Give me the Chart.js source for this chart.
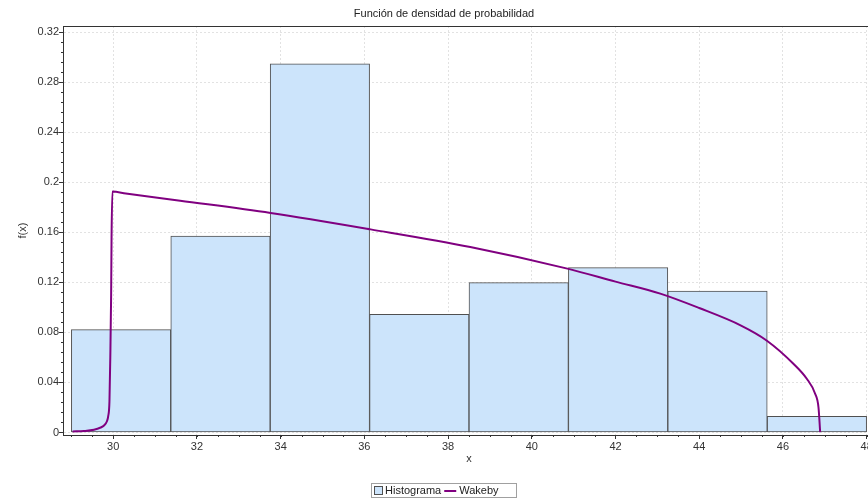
<!DOCTYPE html>
<html>
<head>
<meta charset="utf-8">
<script src="https://cdn.jsdelivr.net/npm/chart.js@4/dist/chart.umd.min.js"></script>
<style>
  html, body { margin: 0; padding: 0; overflow: hidden; background: #fff; }
  canvas { display: block; }
</style>
</head>
<body>
<canvas id="chart" width="880" height="499"></canvas>
<script>
// Texts
const chartTitle = 'Función de densidad de probabilidad';
const xAxisTitle = 'x';
const yAxisTitle = 'f(x)';
const seriesNames = ['Histograma', 'Wakeby'];

// Histogram: class edges and density of each class
const binEdges = [29, 31.375, 33.75, 36.125, 38.5, 40.875, 43.25, 45.625, 48];
const histDensity = [0.0822, 0.157, 0.2947, 0.0945, 0.1198, 0.1318, 0.113, 0.013];

// Fitted Wakeby density curve
const wakebyX = [29.03, 29.3, 29.54, 29.7, 29.78, 29.85, 29.88, 29.91, 29.93, 29.95, 29.96, 29.98,
                 30.3, 31.6, 33.76, 36.15, 38.53, 40.85, 42.0, 43.07, 44.0, 45.0, 45.61, 46.25, 46.57,
                 46.77, 46.85, 46.89];
const wakebyY = [0.0008, 0.0012, 0.0022, 0.004, 0.0056, 0.009, 0.013, 0.025, 0.06, 0.11, 0.156, 0.1926,
                 0.1911, 0.1853, 0.1755, 0.1624, 0.1483, 0.131, 0.1206, 0.111, 0.0995, 0.0855, 0.0736, 0.055, 0.043,
                 0.031, 0.020, 0.0003];

// Axis ticks
const xTicks = [30, 32, 34, 36, 38, 40, 42, 44, 46, 48];
const xTickLabels = ['30', '32', '34', '36', '38', '40', '42', '44', '46', '48'];
const yTicks = [0, 0.04, 0.08, 0.12, 0.16, 0.2, 0.24, 0.28, 0.32];
const yTickLabels = ['0', '0.04', '0.08', '0.12', '0.16', '0.2', '0.24', '0.28', '0.32'];

const BAR_FILL = 'rgb(204, 228, 251)';
const BAR_EDGE = '#505050';
const CURVE = '#800080';
const AXIS = '#333333';
const FONT = '"Liberation Sans", Arial, sans-serif';

Chart.defaults.font.family = FONT;
Chart.defaults.font.size = 11;
Chart.defaults.color = '#333';

const histPoints = histDensity.map((v, i) => ({ x: (binEdges[i] + binEdges[i + 1]) / 2, y: v }));
const curvePoints = wakebyX.map((x, i) => ({ x, y: wakebyY[i] }));

// Frame top line, minor ticks, title and boxed legend
const decorations = {
  id: 'decorations',
  afterDraw(chart) {
    const { ctx, chartArea: a, scales: { x, y } } = chart;
    ctx.save();
    ctx.strokeStyle = AXIS;
    ctx.lineWidth = 1;
    ctx.beginPath();
    ctx.moveTo(a.left, Math.round(a.top) + 0.5);
    ctx.lineTo(a.right, Math.round(a.top) + 0.5);
    ctx.stroke();

    // minor ticks
    ctx.beginPath();
    for (let v = 0; v <= 0.3201; v += 0.008) {
      const p = Math.round(y.getPixelForValue(v)) + 0.5;
      ctx.moveTo(a.left - 2, p); ctx.lineTo(a.left, p);
    }
    for (let v = 29; v <= 48.01; v += 0.5) {
      const p = Math.round(x.getPixelForValue(v)) + 0.5;
      ctx.moveTo(p, a.bottom); ctx.lineTo(p, a.bottom + 2);
    }
    ctx.stroke();

    // title
    ctx.fillStyle = '#222';
    ctx.font = '11px ' + FONT;
    ctx.textAlign = 'center';
    ctx.textBaseline = 'middle';
    ctx.fillText(chartTitle, 444, 14);

    // legend
    ctx.font = '11px ' + FONT;
    ctx.textAlign = 'left';
    const ly = 491;
    ctx.strokeStyle = '#a0a0a0';
    ctx.strokeRect(371.5, 483.5, 145, 14);
    let lx = 374;
    ctx.fillStyle = BAR_FILL;
    ctx.fillRect(lx + 0.5, ly - 4.5, 8, 8);
    ctx.strokeStyle = BAR_EDGE;
    ctx.strokeRect(lx + 0.5, ly - 4.5, 8, 8);
    lx += 11;
    ctx.fillStyle = '#222';
    ctx.fillText(chart.data.datasets[1].label, lx, ly);
    lx += ctx.measureText(chart.data.datasets[1].label).width + 3;
    ctx.strokeStyle = CURVE;
    ctx.lineWidth = 2;
    ctx.beginPath();
    ctx.moveTo(lx, ly); ctx.lineTo(lx + 12, ly);
    ctx.stroke();
    lx += 15;
    ctx.fillText(chart.data.datasets[0].label, lx, ly);
    ctx.restore();
  }
};

new Chart(document.getElementById('chart'), {
  data: {
    datasets: [
      {
        type: 'line',
        label: seriesNames[1],
        data: curvePoints,
        borderColor: CURVE,
        borderWidth: 2,
        pointRadius: 0,
        fill: false,
        cubicInterpolationMode: 'monotone',
        order: 0
      },
      {
        type: 'bar',
        label: seriesNames[0],
        data: histPoints,
        backgroundColor: BAR_FILL,
        borderColor: BAR_EDGE,
        borderWidth: 1,
        borderSkipped: false,
        barThickness: 'flex',
        barPercentage: 1,
        categoryPercentage: 1,
        order: 1
      }
    ]
  },
  options: {
    responsive: false,
    animation: false,
    layout: { padding: { top: 26, right: 5, bottom: 0, left: 0 } },
    plugins: {
      legend: { display: false },
      tooltip: { enabled: false },
      title: { display: false }
    },
    scales: {
      x: {
        type: 'linear',
        min: 28.8,
        max: 48.2,
        offset: false,
        afterBuildTicks: s => { s.ticks = xTicks.map(v => ({ value: v })); },
        afterFit: s => { s.height = 64; },
        ticks: {
          autoSkip: false,
          maxRotation: 0,
          padding: 1,
          color: '#333',
          callback: (v, i) => xTickLabels[i]
        },
        grid: { offset: false, color: '#e2e2e2', tickColor: AXIS, tickLength: 4, drawTicks: true },
        border: { display: true, color: AXIS, width: 1, dash: [2, 2] },
        title: { display: true, text: xAxisTitle, color: '#333', padding: { top: 0, bottom: 33 } }
      },
      y: {
        type: 'linear',
        min: -0.002,
        max: 0.325,
        afterBuildTicks: s => { s.ticks = yTicks.map(v => ({ value: v })); },
        afterFit: s => { s.width = 63; },
        ticks: {
          autoSkip: false,
          padding: 0,
          color: '#333',
          callback: (v, i) => yTickLabels[i]
        },
        grid: { color: '#e2e2e2', tickColor: AXIS, tickLength: 4, drawTicks: true },
        border: { display: true, color: AXIS, width: 1, dash: [2, 2] },
        title: { display: true, text: yAxisTitle, color: '#333', padding: { top: 16, bottom: 0 } }
      }
    }
  },
  plugins: [decorations]
});
</script>
</body>
</html>
